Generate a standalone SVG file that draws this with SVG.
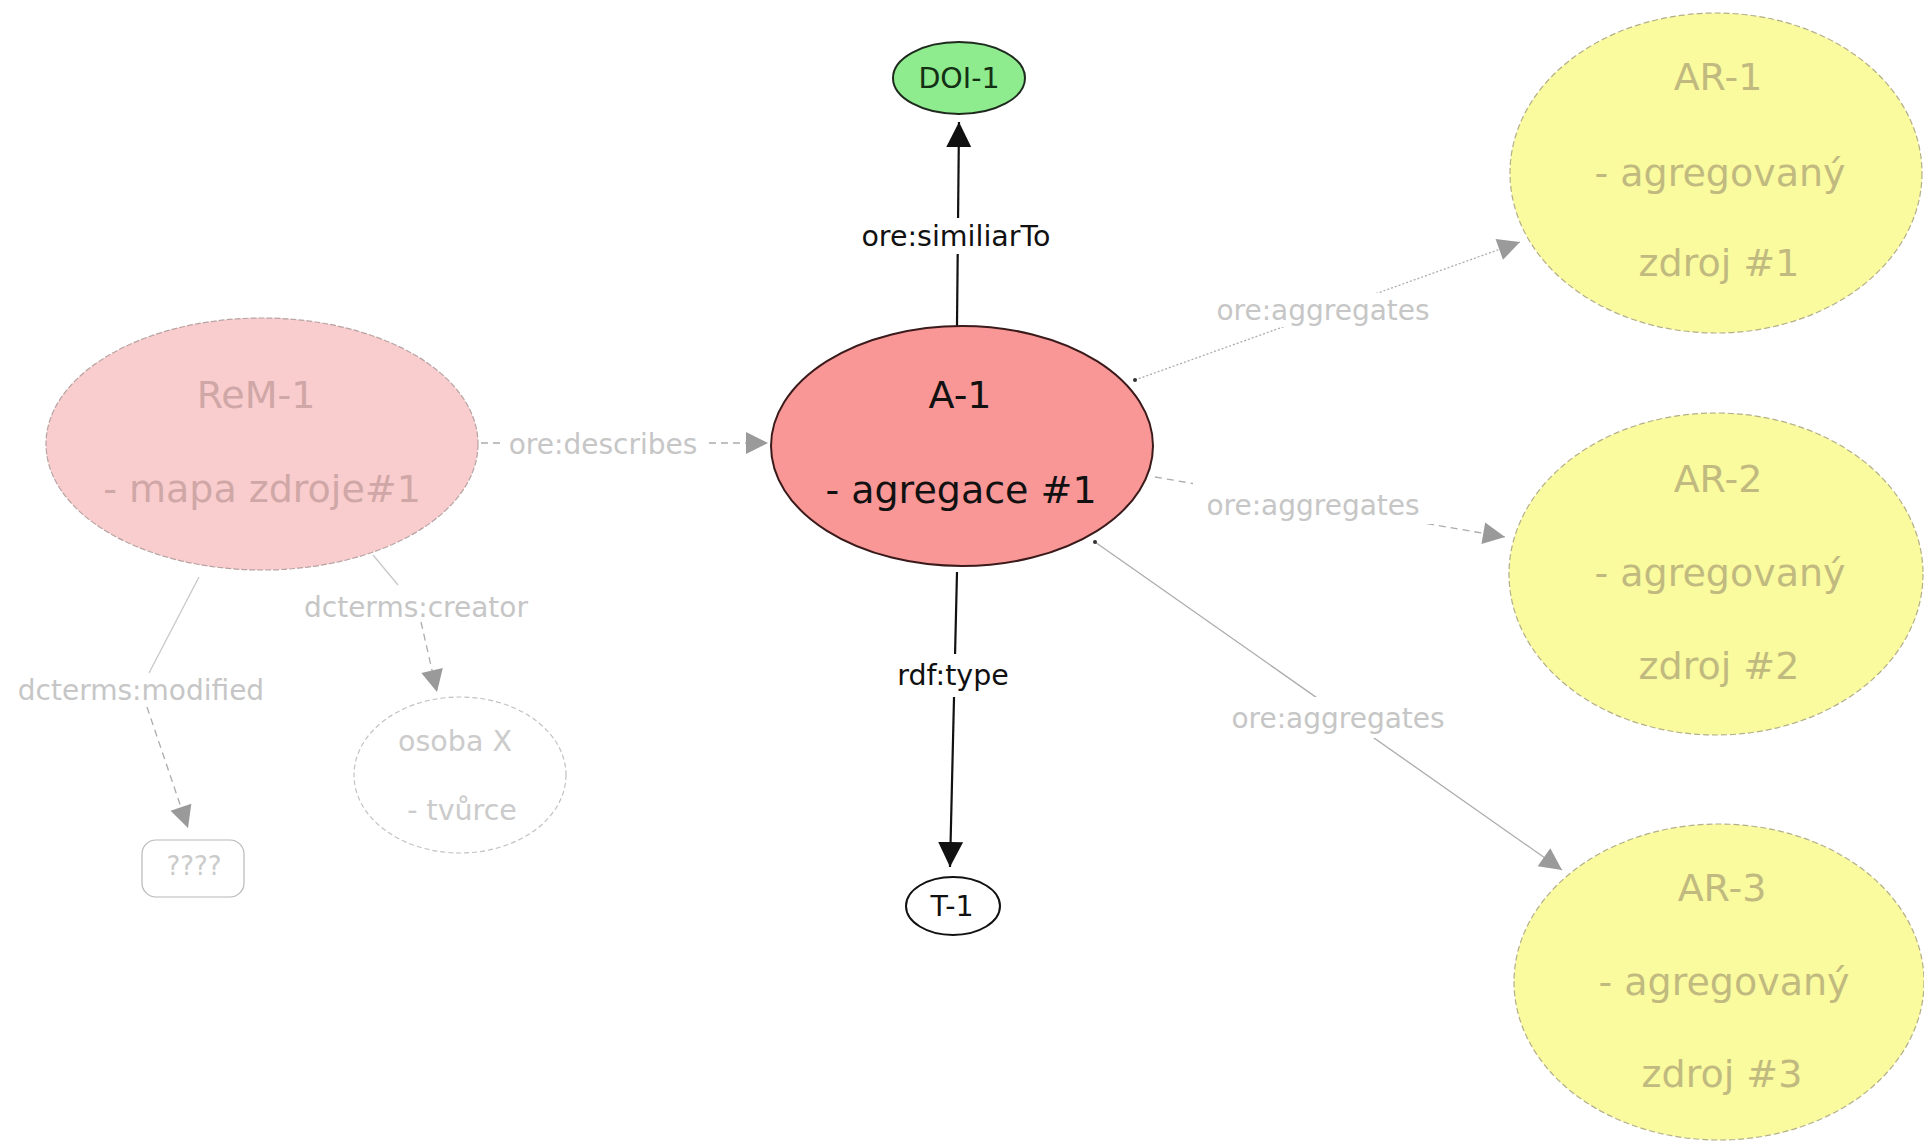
<svg xmlns="http://www.w3.org/2000/svg" width="1924" height="1141" viewBox="0 0 1924 1141">
<style>
text{font-family:"DejaVu Sans",Verdana,sans-serif;text-anchor:middle}
.big{font-size:38px}
.lbl{font-size:28.5px}
.lblg{font-size:28px;fill:#c6c6c6}
.blk{fill:#111}
.rem{fill:#cfa7a7}
.ar{fill:#c1ba80}
.faint{fill:#cbcbcb}
.bg{fill:#fff}
.ln-b{stroke:#111;stroke-width:2.2;fill:none}
.ln-g{stroke:#acacac;stroke-width:1.3;fill:none}
.ln-l{stroke:#c8c8c8;stroke-width:1.3;fill:none}
.dash{stroke-dasharray:7 5}
.dot{stroke-dasharray:2 2}
.ell-ar{fill:#fafa9e;stroke:#b3af88;stroke-width:1.2;stroke-dasharray:6 3}
</style>
<defs>
<marker id="ab" viewBox="0 0 10 10" refX="10" refY="5" markerWidth="25" markerHeight="26" markerUnits="userSpaceOnUse" orient="auto"><path d="M0,0 L10,5 L0,10 z" fill="#111"/></marker>
<marker id="ag" viewBox="0 0 10 10" refX="10" refY="5" markerWidth="26" markerHeight="22" markerUnits="userSpaceOnUse" orient="auto"><path d="M0,0 L10,5 L0,10 z" fill="#9a9a9a"/></marker>
<marker id="dt" viewBox="0 0 4 4" refX="2" refY="2" markerWidth="4" markerHeight="4" markerUnits="userSpaceOnUse"><circle cx="2" cy="2" r="2" fill="#333"/></marker>
</defs>
<rect width="1924" height="1141" fill="#fff"/>

<g id="connectors">
  <g id="e-similiarTo">
    <line class="ln-b" x1="957" y1="326" x2="959" y2="122" marker-end="url(#ab)"/>
    <rect class="bg" x="853" y="218" width="206" height="36"/>
    <text class="lbl blk" x="956" y="246">ore:similiarTo</text>
  </g>
  <g id="e-type">
    <line class="ln-b" x1="957" y1="572" x2="950" y2="867" marker-end="url(#ab)"/>
    <rect class="bg" x="891" y="654" width="124" height="43"/>
    <text class="lbl blk" x="953" y="685">rdf:type</text>
  </g>
  <g id="e-describes">
    <line class="ln-g dash" x1="481" y1="443" x2="768" y2="443" marker-end="url(#ag)"/>
    <rect class="bg" x="502" y="428" width="202" height="32"/>
    <text class="lblg" x="603" y="454">ore:describes</text>
  </g>
  <g id="e-agg1">
    <line class="ln-g dot" x1="1135" y1="380" x2="1520" y2="242" marker-start="url(#dt)" marker-end="url(#ag)"/>
    <rect class="bg" x="1211" y="293" width="224" height="34"/>
    <text class="lblg" x="1323" y="320">ore:aggregates</text>
  </g>
  <g id="e-agg2">
    <line class="ln-g dash" x1="1155" y1="477" x2="1505" y2="537" marker-end="url(#ag)"/>
    <rect class="bg" x="1193" y="482" width="239" height="42"/>
    <text class="lblg" x="1313" y="515">ore:aggregates</text>
  </g>
  <g id="e-agg3">
    <line class="ln-g" x1="1095" y1="542" x2="1562" y2="870" marker-start="url(#dt)" marker-end="url(#ag)"/>
    <rect class="bg" x="1226" y="697" width="224" height="41"/>
    <text class="lblg" x="1338" y="728">ore:aggregates</text>
  </g>
  <g id="e-creator">
    <line class="ln-l" x1="373" y1="555" x2="398" y2="585"/>
    <line class="ln-g dash" x1="421" y1="622" x2="437" y2="692" marker-end="url(#ag)"/>
    <text class="lblg" x="416" y="617">dcterms:creator</text>
  </g>
  <g id="e-modified">
    <line class="ln-l" x1="199" y1="577" x2="149" y2="673"/>
    <line class="ln-g dash" x1="147" y1="707" x2="188" y2="828" marker-end="url(#ag)"/>
    <text class="lblg" x="141" y="700">dcterms:modified</text>
  </g>
</g>

<g id="node-ReM-1">
  <ellipse cx="262" cy="444" rx="216" ry="126" fill="#f9cdcd" stroke="#b8a2a2" stroke-width="1.2" stroke-dasharray="6 2"/>
  <text class="big rem" x="256" y="408">ReM-1</text>
  <text class="big rem" x="262" y="502">- mapa zdroje#1</text>
</g>

<g id="node-A-1">
  <ellipse cx="962" cy="446" rx="191" ry="120" fill="#f99696" stroke="#3a1a1a" stroke-width="2"/>
  <text class="big blk" x="960" y="408">A-1</text>
  <text class="big blk" x="961" y="503">- agregace #1</text>
</g>

<g id="node-DOI-1">
  <ellipse cx="959" cy="78" rx="66" ry="36" fill="#8eeb8e" stroke="#1e2a1e" stroke-width="2"/>
  <text class="lbl" x="959" y="88" fill="#143014">DOI-1</text>
</g>

<g id="node-T-1">
  <ellipse cx="953" cy="906" rx="47" ry="29" fill="#fff" stroke="#111" stroke-width="2"/>
  <text class="lbl blk" x="952" y="916">T-1</text>
</g>

<g id="node-AR-1">
  <ellipse class="ell-ar" cx="1716" cy="173" rx="206" ry="160"/>
  <text class="big ar" x="1718" y="90">AR-1</text>
  <text class="big ar" x="1720" y="186">- agregovaný</text>
  <text class="big ar" x="1719" y="276">zdroj #1</text>
</g>

<g id="node-AR-2">
  <ellipse class="ell-ar" cx="1716" cy="574" rx="207" ry="161"/>
  <text class="big ar" x="1718" y="492">AR-2</text>
  <text class="big ar" x="1720" y="586">- agregovaný</text>
  <text class="big ar" x="1719" y="679">zdroj #2</text>
</g>

<g id="node-AR-3">
  <ellipse class="ell-ar" cx="1719" cy="982" rx="205" ry="158"/>
  <text class="big ar" x="1722" y="901">AR-3</text>
  <text class="big ar" x="1724" y="995">- agregovaný</text>
  <text class="big ar" x="1722" y="1087">zdroj #3</text>
</g>

<g id="node-osoba-X">
  <ellipse cx="460" cy="775" rx="106" ry="78" fill="#fff" stroke="#c2c2c2" stroke-width="1.2" stroke-dasharray="5 3"/>
  <text class="lbl faint" x="455" y="751" font-size="27">osoba X</text>
  <text class="lbl faint" x="462" y="820" font-size="27">- tvůrce</text>
</g>

<g id="node-unknown">
  <rect x="142" y="840" width="102" height="57" rx="14" fill="#fff" stroke="#b8b8b8" stroke-width="1.2"/>
  <text class="faint" x="194" y="875" font-size="26">????</text>
</g>
</svg>
